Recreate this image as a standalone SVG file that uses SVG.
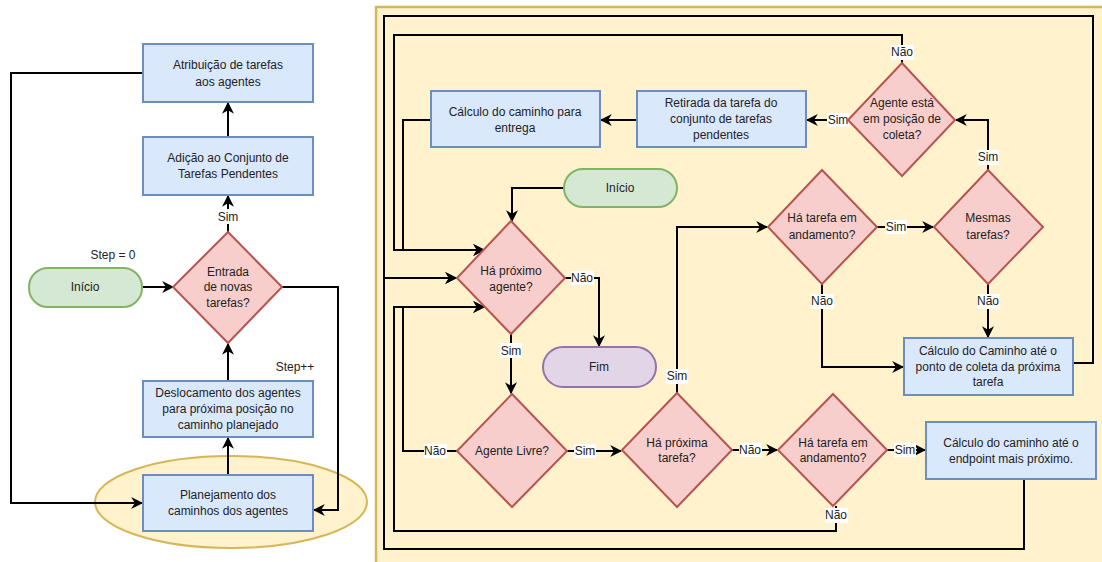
<svg xmlns="http://www.w3.org/2000/svg" width="1102" height="562" viewBox="0 0 1102 562">
  <style>
    text { font-family: "Liberation Sans", Arial, sans-serif; font-size: 12px; fill: #222; text-anchor: middle; }
    .proc { fill: #dae8fc; stroke: #6c8ebf; stroke-width: 2; }
    .dec { fill: #f8cecc; stroke: #b85450; stroke-width: 2; }
    .start { fill: #d5e8d4; stroke: #82b366; stroke-width: 2; }
    .end { fill: #e1d5e7; stroke: #9673a6; stroke-width: 2; }
    .edge { fill: none; stroke: #000; stroke-width: 2; }
    .arrow { marker-end: url(#arrow); }
    .lblbg { fill: #fff; }
    .lbl { font-size: 12px; }
  </style>
  <defs>
    <marker id="arrow" viewBox="0 0 10 10" refX="9" refY="5" markerWidth="12" markerHeight="12" markerUnits="userSpaceOnUse" orient="auto">
      <path d="M0,0 L10,5 L0,10 L3,5 Z" fill="#000"/>
    </marker>
  </defs>

  <!-- highlight behind the planning step -->
  <ellipse id="planning-highlight" cx="231" cy="502" rx="136" ry="46" fill="#fff2cc" stroke="#d6b656" stroke-width="2"/>

  <!-- expanded planning panel -->
  <rect id="planning-panel" x="376" y="7" width="740" height="570" fill="#fff2cc" stroke="#d6b656" stroke-width="2.5"/>

  <!-- connectors -->
  <g id="connectors">
    <!-- main loop -->
    <path class="edge arrow" d="M142,287 L173,287"/>
    <path class="edge arrow" d="M228,232 L228,196"/>
    <path class="edge arrow" d="M228,137 L228,103"/>
    <path class="edge arrow" d="M143,73 L11,73 L11,503 L142,503"/>
    <path class="edge arrow" d="M282,287 L338,287 L338,510 L314,510"/>
    <path class="edge arrow" d="M228,475 L228,438"/>
    <path class="edge arrow" d="M228,381 L228,344"/>

    <!-- planning detail -->
    <path class="edge arrow" d="M564,188 L512,188 L512,221"/>
    <path class="edge arrow" d="M565,278 L599,278 L599,346"/>
    <path class="edge arrow" d="M511,334 L511,393"/>
    <path class="edge arrow" d="M567,451 L621,451"/>
    <path class="edge arrow" d="M457,451 L403,451 L403,307 L484,307"/>
    <path class="edge arrow" d="M677,393 L677,227 L767,227"/>
    <path class="edge arrow" d="M732,450 L777,450"/>
    <path class="edge arrow" d="M887,450 L925,450"/>
    <path class="edge arrow" d="M836,506 L836,531 L394,531 L394,307 L484,307"/>
    <path class="edge arrow" d="M1024,479 L1024,549 L384,549 L384,278 L456,278"/>
    <path class="edge arrow" d="M1073,363 L1093,363 L1093,16 L384,16 L384,278 L456,278"/>
    <path class="edge arrow" d="M877,227 L933,227"/>
    <path class="edge arrow" d="M822,284 L822,367 L903,367"/>
    <path class="edge arrow" d="M988,284 L988,337"/>
    <path class="edge arrow" d="M988,170 L988,120 L956,120"/>
    <path class="edge arrow" d="M848,120 L807,120"/>
    <path class="edge arrow" d="M902,63 L902,35 L394,35 L394,250 L484,250"/>
    <path class="edge arrow" d="M637,120 L601,120"/>
    <path class="edge arrow" d="M431,120 L403,120 L403,250 L484,250"/>

    <!-- edge labels -->
    <rect class="lblbg" x="217" y="209" width="22" height="15"/><text class="lbl" x="228" y="221">Sim</text>
    <rect class="lblbg" x="571" y="271" width="23" height="14"/><text class="lbl" x="582" y="282">Não</text>
    <rect class="lblbg" x="500" y="343" width="22" height="15"/><text class="lbl" x="511" y="355">Sim</text>
    <rect class="lblbg" x="574" y="444" width="22" height="14"/><text class="lbl" x="585" y="455">Sim</text>
    <rect class="lblbg" x="424" y="444" width="23" height="14"/><text class="lbl" x="435" y="455">Não</text>
    <rect class="lblbg" x="666" y="369" width="22" height="15"/><text class="lbl" x="677" y="380">Sim</text>
    <rect class="lblbg" x="739" y="443" width="23" height="14"/><text class="lbl" x="750" y="454">Não</text>
    <rect class="lblbg" x="894" y="443" width="22" height="14"/><text class="lbl" x="905" y="454">Sim</text>
    <rect class="lblbg" x="825" y="508" width="23" height="15"/><text class="lbl" x="836" y="519">Não</text>
    <rect class="lblbg" x="885" y="220" width="22" height="14"/><text class="lbl" x="896" y="231">Sim</text>
    <rect class="lblbg" x="811" y="294" width="23" height="15"/><text class="lbl" x="822" y="305">Não</text>
    <rect class="lblbg" x="977" y="294" width="23" height="15"/><text class="lbl" x="988" y="305">Não</text>
    <rect class="lblbg" x="977" y="150" width="22" height="15"/><text class="lbl" x="988" y="161">Sim</text>
    <rect class="lblbg" x="827" y="113" width="22" height="14"/><text class="lbl" x="838" y="124">Sim</text>
    <rect class="lblbg" x="891" y="45" width="23" height="15"/><text class="lbl" x="902" y="56">Não</text>
  </g>

  <!-- main loop nodes -->
  <g id="atribuicao">
    <rect class="proc" x="143" y="44" width="170" height="58"/>
    <text x="228" y="69">Atribuição de tarefas</text>
    <text x="228" y="86">aos agentes</text>
  </g>
  <g id="adicao">
    <rect class="proc" x="143" y="137" width="170" height="58"/>
    <text x="228" y="162">Adição ao Conjunto de</text>
    <text x="228" y="178">Tarefas Pendentes</text>
  </g>
  <g id="entrada">
    <path class="dec" d="M228,232 L282,287 L228,343 L173,287 Z"/>
    <text x="228" y="276">Entrada</text>
    <text x="228" y="291">de novas</text>
    <text x="228" y="307">tarefas?</text>
  </g>
  <g id="inicio-main">
    <rect class="start" x="29" y="268" width="113" height="39" rx="19" ry="19"/>
    <text x="85" y="291">Início</text>
  </g>
  <g id="step-zero"><text x="113" y="259">Step = 0</text></g>
  <g id="step-inc"><text x="295" y="371">Step++</text></g>
  <g id="deslocamento">
    <rect class="proc" x="143" y="381" width="170" height="56"/>
    <text x="228" y="397">Deslocamento dos agentes</text>
    <text x="228" y="413">para próxima posição no</text>
    <text x="228" y="429">caminho planejado</text>
  </g>
  <g id="planejamento">
    <rect class="proc" x="143" y="475" width="170" height="56"/>
    <text x="228" y="499">Planejamento dos</text>
    <text x="228" y="515">caminhos dos agentes</text>
  </g>

  <!-- planning detail nodes -->
  <g id="calculo-entrega">
    <rect class="proc" x="431" y="91" width="169" height="56"/>
    <text x="515" y="116">Cálculo do caminho para</text>
    <text x="515" y="132">entrega</text>
  </g>
  <g id="retirada">
    <rect class="proc" x="637" y="91" width="169" height="56"/>
    <text x="721" y="107">Retirada da tarefa do</text>
    <text x="721" y="123">conjunto de tarefas</text>
    <text x="721" y="139">pendentes</text>
  </g>
  <g id="agente-coleta">
    <path class="dec" d="M902,63 L955,120 L902,176 L848,120 Z"/>
    <text x="902" y="107">Agente está</text>
    <text x="902" y="123">em posição de</text>
    <text x="902" y="139">coleta?</text>
  </g>
  <g id="inicio-plan">
    <rect class="start" x="564" y="169" width="113" height="38" rx="19" ry="19"/>
    <text x="620" y="192">Início</text>
  </g>
  <g id="tarefa-andamento-1">
    <path class="dec" d="M822,170 L877,227 L822,284 L768,227 Z"/>
    <text x="822" y="222">Há tarefa em</text>
    <text x="822" y="239">andamento?</text>
  </g>
  <g id="mesmas-tarefas">
    <path class="dec" d="M988,170 L1043,227 L988,284 L934,227 Z"/>
    <text x="988" y="222">Mesmas</text>
    <text x="988" y="239">tarefas?</text>
  </g>
  <g id="proximo-agente">
    <path class="dec" d="M511,221 L565,278 L511,334 L457,278 Z"/>
    <text x="511" y="275">Há próximo</text>
    <text x="511" y="291">agente?</text>
  </g>
  <g id="fim">
    <rect class="end" x="543" y="347" width="113" height="40" rx="20" ry="20"/>
    <text x="599" y="371">Fim</text>
  </g>
  <g id="calculo-coleta">
    <rect class="proc" x="904" y="338" width="169" height="57"/>
    <text x="988" y="355">Cálculo do Caminho até o</text>
    <text x="988" y="371">ponto de coleta da próxima</text>
    <text x="988" y="386">tarefa</text>
  </g>
  <g id="agente-livre">
    <path class="dec" d="M512,394 L567,451 L512,507 L457,451 Z"/>
    <text x="512" y="455">Agente Livre?</text>
  </g>
  <g id="proxima-tarefa">
    <path class="dec" d="M677,393 L732,450 L677,507 L622,450 Z"/>
    <text x="677" y="447">Há próxima</text>
    <text x="677" y="462">tarefa?</text>
  </g>
  <g id="tarefa-andamento-2">
    <path class="dec" d="M833,394 L887,450 L833,506 L778,450 Z"/>
    <text x="833" y="447">Há tarefa em</text>
    <text x="833" y="462">andamento?</text>
  </g>
  <g id="calculo-endpoint">
    <rect class="proc" x="926" y="422" width="170" height="57"/>
    <text x="1011" y="447">Cálculo do caminho até o</text>
    <text x="1011" y="463">endpoint mais próximo.</text>
  </g>
</svg>
